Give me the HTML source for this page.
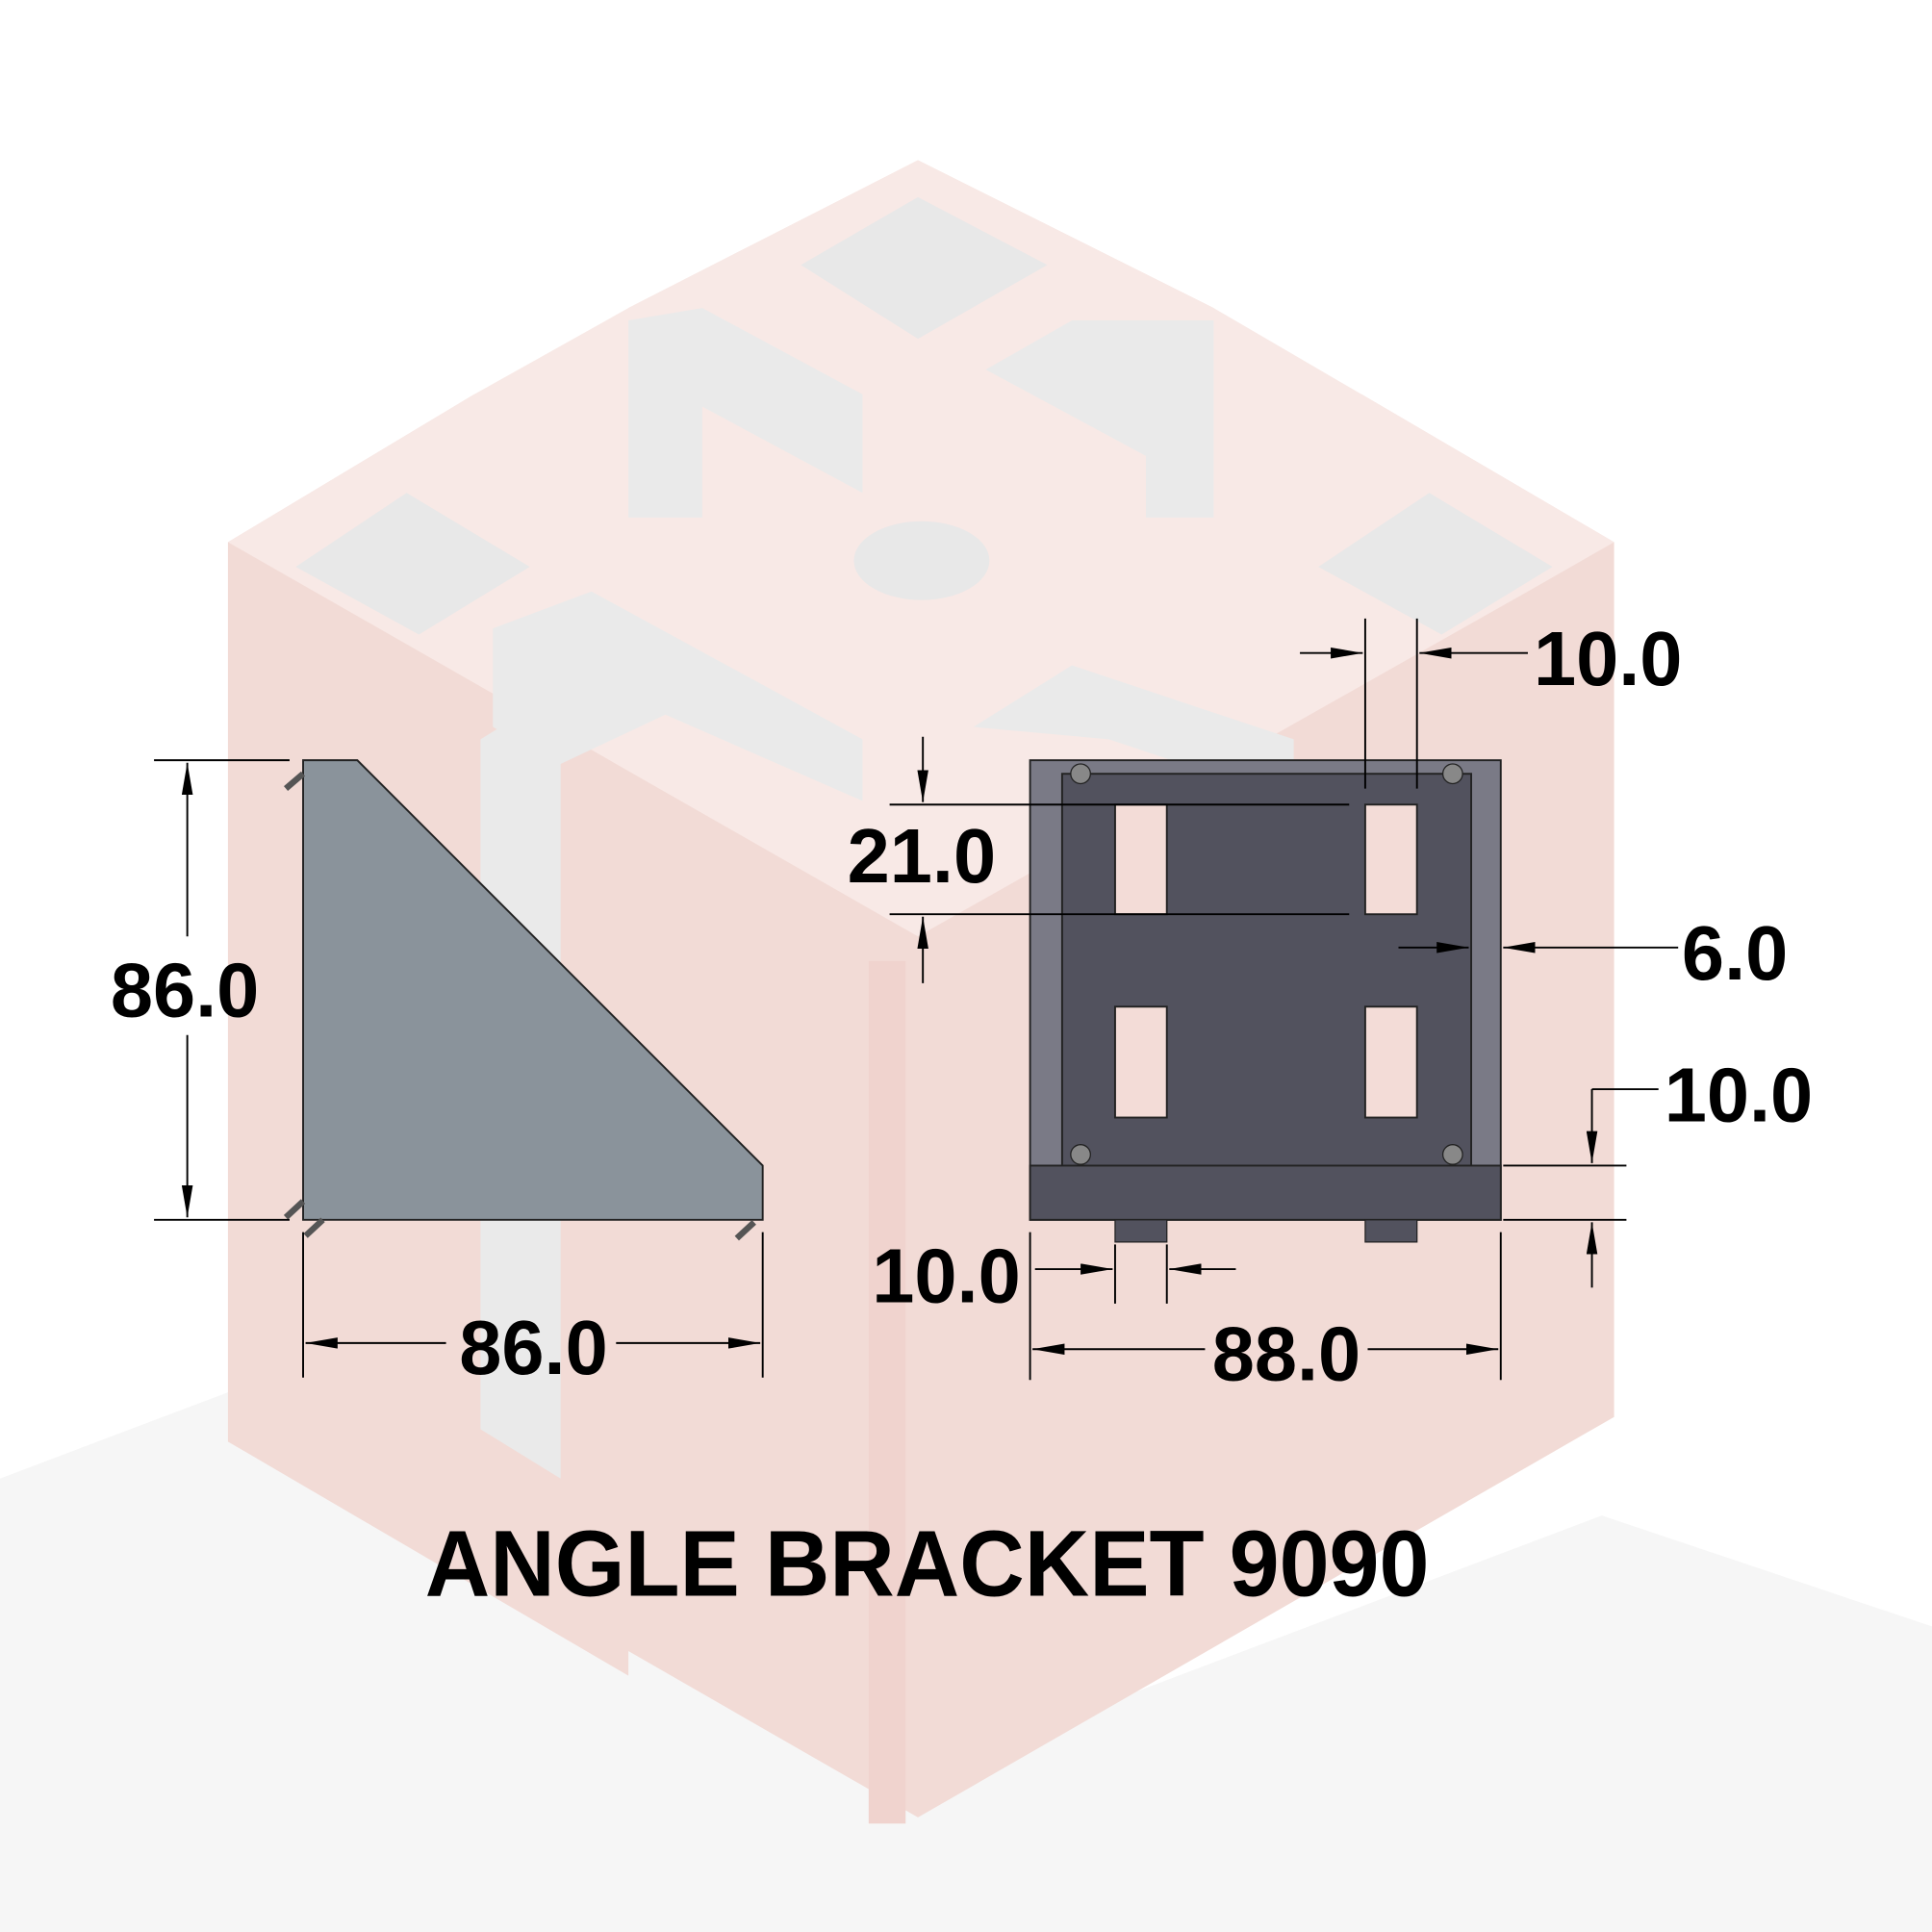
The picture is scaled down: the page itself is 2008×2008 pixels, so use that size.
<!DOCTYPE html>
<html><head><meta charset="utf-8"><style>
html,body{margin:0;padding:0;background:#fff;}
svg{display:block;}
text{font-family:"Liberation Sans",sans-serif;font-weight:bold;fill:#000;}
</style></head><body>
<svg width="2008" height="2008" viewBox="0 0 1568 1568" xmlns="http://www.w3.org/2000/svg">
<defs>
<marker id="a" viewBox="0 0 10 10" preserveAspectRatio="none" refX="10" refY="5" markerWidth="26" markerHeight="9" markerUnits="userSpaceOnUse" orient="auto-start-reverse"><path d="M0,0 L10,5 L0,10 z" fill="#000"/></marker>
</defs>
<rect width="1568" height="1568" fill="#fff"/>
<!-- shadow -->
<polygon points="0,1200 185,1130 745,1440 1300,1230 1568,1320 1568,1568 0,1568" fill="#f6f6f6"/>
<!-- background profile -->
<polygon points="745,130 985,250 985,400 1050,360 1105,320 1310,440 1310,1150 745,1475 510,1340 510,1360 185,1170 185,440 385,320 445,350 510,300 510,250" fill="#f2dbd6"/>
<polygon points="745,130 985,250 1105,320 1310,440 1240,480 745,760 185,440 385,320 510,250" fill="#f8e9e6"/>
<polygon points="650,215 745,160 850,215 745,275" fill="#e8e8e8"/>
<polygon points="240,460 330,400 430,460 340,515" fill="#e8e8e8"/>
<polygon points="1070,460 1160,400 1260,460 1170,515" fill="#e8e8e8"/>
<ellipse cx="748" cy="455" rx="55" ry="32" fill="#e8e8e8"/>
<polygon points="510,260 570,250 700,320 700,400 570,330 570,420 510,420" fill="#eaeaea"/>
<polygon points="800,300 870,260 985,260 985,420 930,420 930,370" fill="#eaeaea"/>
<polygon points="390,600 455,560 455,1200 390,1160" fill="#eaeaea"/>
<polygon points="400,510 480,480 700,600 700,650 540,580 455,620 400,590" fill="#eaeaea"/>
<polygon points="790,590 870,540 1050,600 1050,650 900,600" fill="#eaeaea"/>
<rect x="705" y="780" width="30" height="700" fill="#f0d3ce"/>
<!-- left bracket -->
<polygon points="246,617 290,617 619,946 619,990 246,990" fill="#8a939b" stroke="#222" stroke-width="1.5"/>
<line x1="246" y1="628" x2="232" y2="640" stroke="#555" stroke-width="5"/>
<line x1="246" y1="975" x2="232" y2="988" stroke="#555" stroke-width="5"/>
<line x1="262" y1="990" x2="248" y2="1003" stroke="#555" stroke-width="5"/>
<line x1="612" y1="992" x2="598" y2="1005" stroke="#555" stroke-width="5"/>
<!-- dims left -->
<g stroke="#000" stroke-width="1.5" fill="none">
<line x1="125" y1="617" x2="235" y2="617"/>
<line x1="125" y1="990" x2="235" y2="990"/>
<line x1="152" y1="619" x2="152" y2="760" marker-start="url(#a)"/>
<line x1="152" y1="840" x2="152" y2="988" marker-end="url(#a)"/>
<line x1="246" y1="1000" x2="246" y2="1118"/>
<line x1="619" y1="1000" x2="619" y2="1118"/>
<line x1="248" y1="1090" x2="362" y2="1090" marker-start="url(#a)"/>
<line x1="500" y1="1090" x2="617" y2="1090" marker-end="url(#a)"/>
</g>
<text x="150" y="825" font-size="62" text-anchor="middle">86.0</text>
<text x="433" y="1115" font-size="62" text-anchor="middle">86.0</text>
<!-- right view -->
<rect x="836" y="617" width="382" height="373" fill="#7a7a86" stroke="#222" stroke-width="1.5"/>
<rect x="862" y="628" width="332" height="318" fill="#52525e" stroke="#222" stroke-width="1.5"/>
<rect x="836" y="946" width="382" height="44" fill="#52525e" stroke="#222" stroke-width="1.5"/>
<rect x="905" y="990" width="42" height="18" fill="#52525e" stroke="#222"/>
<rect x="1108" y="990" width="42" height="18" fill="#52525e" stroke="#222"/>
<g fill="#f3dcd7" stroke="#222" stroke-width="1.5">
<rect x="905" y="653" width="42" height="89"/>
<rect x="1108" y="653" width="42" height="89"/>
<rect x="905" y="817" width="42" height="90"/>
<rect x="1108" y="817" width="42" height="90"/>
</g>
<g fill="#888" stroke="#222">
<circle cx="877" cy="628" r="8"/><circle cx="1179" cy="628" r="8"/>
<circle cx="877" cy="937" r="8"/><circle cx="1179" cy="937" r="8"/>
</g>
<!-- dims right -->
<g stroke="#000" stroke-width="1.5" fill="none">
<line x1="1108" y1="502" x2="1108" y2="640"/>
<line x1="1150" y1="502" x2="1150" y2="640"/>
<line x1="1055" y1="530" x2="1106" y2="530" marker-end="url(#a)"/>
<line x1="1240" y1="530" x2="1152" y2="530" marker-end="url(#a)"/>
<line x1="722" y1="653" x2="1095" y2="653"/>
<line x1="722" y1="742" x2="1095" y2="742"/>
<line x1="749" y1="598" x2="749" y2="651" marker-end="url(#a)"/>
<line x1="749" y1="798" x2="749" y2="744" marker-end="url(#a)"/>
<line x1="1135" y1="769" x2="1192" y2="769" marker-end="url(#a)"/>
<line x1="1362" y1="769" x2="1220" y2="769" marker-end="url(#a)"/>
<line x1="1220" y1="946" x2="1320" y2="946"/>
<line x1="1220" y1="990" x2="1320" y2="990"/>
<line x1="1346" y1="884" x2="1292" y2="884"/>
<line x1="1292" y1="884" x2="1292" y2="944" marker-end="url(#a)"/>
<line x1="1292" y1="1045" x2="1292" y2="992" marker-end="url(#a)"/>
<line x1="836" y1="1000" x2="836" y2="1120"/>
<line x1="905" y1="1010" x2="905" y2="1058"/>
<line x1="947" y1="1010" x2="947" y2="1058"/>
<line x1="1218" y1="1000" x2="1218" y2="1120"/>
<line x1="840" y1="1030" x2="903" y2="1030" marker-end="url(#a)"/>
<line x1="1003" y1="1030" x2="949" y2="1030" marker-end="url(#a)"/>
<line x1="838" y1="1095" x2="978" y2="1095" marker-start="url(#a)"/>
<line x1="1110" y1="1095" x2="1216" y2="1095" marker-end="url(#a)"/>
</g>
<text x="1305" y="556" font-size="62" text-anchor="middle">10.0</text>
<text x="748" y="716" font-size="62" text-anchor="middle">21.0</text>
<text x="1408" y="795" font-size="62" text-anchor="middle">6.0</text>
<text x="1411" y="910" font-size="62" text-anchor="middle">10.0</text>
<text x="768" y="1057" font-size="62" text-anchor="middle">10.0</text>
<text x="1044" y="1120" font-size="62" text-anchor="middle">88.0</text>
<text x="345" y="1295" font-size="76" textLength="815" lengthAdjust="spacingAndGlyphs">ANGLE BRACKET 9090</text>
</svg>
</body></html>
